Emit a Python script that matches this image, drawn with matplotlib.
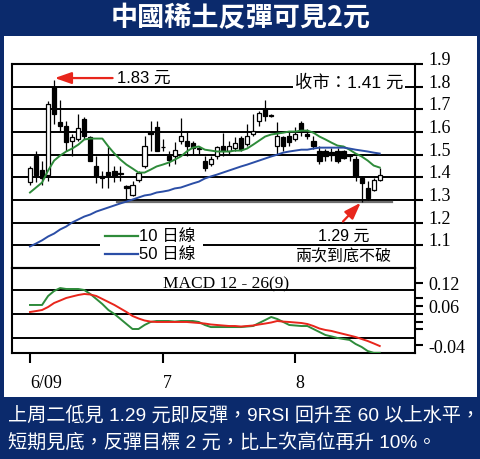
import matplotlib
matplotlib.use("Agg")
import matplotlib.pyplot as plt
import matplotlib.transforms as mtransforms
from matplotlib.patches import Rectangle

W, H, DPI = 481, 460, 100

NAVY = "#0b2a6c"
GREEN = "#2e8b3a"
BLUE = "#2b4ea6"
RED = "#e8261c"
CJK = ["Liberation Sans", "Noto Sans CJK TC"]
SERIF = ["Liberation Serif"]

# Daily candles, June - August 2009
opens = [1.381, 1.492, 1.434, 1.412, 1.800, 1.646, 1.628, 1.562, 1.571, 1.659,
         1.580, 1.452, 1.408, 1.425, 1.430, 1.418, 1.360, 1.320, 1.390, 1.452,
         1.602, 1.624, 1.536, 1.496, 1.492, 1.562, 1.562, 1.553, 1.527, 1.474,
         1.461, 1.492, 1.540, 1.514, 1.531, 1.575, 1.549, 1.593, 1.650, 1.703,
         1.672, 1.540, 1.580, 1.584, 1.571, 1.641, 1.593, 1.562, 1.518, 1.514,
         1.512, 1.518, 1.514, 1.498, 1.483, 1.395, 1.355, 1.342, 1.390]
highs = [1.452, 1.514, 1.470, 1.738, 1.830, 1.743, 1.650, 1.593, 1.681, 1.668,
         1.584, 1.496, 1.430, 1.536, 1.452, 1.452, 1.364, 1.386, 1.430, 1.584,
         1.650, 1.650, 1.571, 1.514, 1.558, 1.663, 1.602, 1.562, 1.540, 1.496,
         1.492, 1.540, 1.597, 1.562, 1.580, 1.584, 1.637, 1.681, 1.694, 1.743,
         1.680, 1.646, 1.584, 1.602, 1.624, 1.650, 1.615, 1.584, 1.540, 1.527,
         1.531, 1.530, 1.520, 1.505, 1.492, 1.404, 1.382, 1.395, 1.443]
lows = [1.364, 1.381, 1.364, 1.386, 1.637, 1.606, 1.518, 1.496, 1.562, 1.571,
        1.470, 1.373, 1.351, 1.351, 1.381, 1.386, 1.298, 1.316, 1.381, 1.439,
        1.514, 1.514, 1.514, 1.452, 1.461, 1.549, 1.496, 1.505, 1.505, 1.430,
        1.452, 1.483, 1.496, 1.505, 1.514, 1.518, 1.540, 1.584, 1.628, 1.650,
        1.668, 1.505, 1.518, 1.540, 1.562, 1.584, 1.571, 1.527, 1.461, 1.474,
        1.470, 1.465, 1.483, 1.470, 1.386, 1.290, 1.298, 1.338, 1.386]
closes = [1.443, 1.412, 1.395, 1.725, 1.681, 1.628, 1.558, 1.580, 1.619, 1.584,
          1.474, 1.408, 1.395, 1.404, 1.408, 1.415, 1.351, 1.364, 1.417, 1.540,
          1.593, 1.518, 1.532, 1.478, 1.522, 1.584, 1.540, 1.531, 1.525, 1.439,
          1.483, 1.536, 1.514, 1.540, 1.553, 1.527, 1.584, 1.606, 1.685, 1.672,
          1.670, 1.584, 1.540, 1.558, 1.593, 1.606, 1.584, 1.540, 1.470, 1.496,
          1.500, 1.470, 1.487, 1.495, 1.408, 1.373, 1.307, 1.390, 1.410]

# 10-day and 50-day moving averages
ma10 = [1.333, 1.355, 1.377, 1.430, 1.474, 1.496, 1.514, 1.527, 1.544, 1.567,
        1.571, 1.571, 1.571, 1.536, 1.505, 1.478, 1.456, 1.439, 1.421, 1.421,
        1.434, 1.448, 1.456, 1.465, 1.478, 1.492, 1.514, 1.531, 1.536, 1.522,
        1.518, 1.514, 1.514, 1.514, 1.518, 1.518, 1.527, 1.544, 1.562, 1.580,
        1.589, 1.593, 1.597, 1.602, 1.602, 1.606, 1.606, 1.597, 1.580, 1.567,
        1.553, 1.540, 1.536, 1.522, 1.505, 1.492, 1.474, 1.452, 1.443]
ma50 = [1.095, 1.108, 1.122, 1.139, 1.152, 1.170, 1.183, 1.201, 1.214, 1.227,
        1.236, 1.249, 1.258, 1.267, 1.276, 1.285, 1.293, 1.302, 1.311, 1.320,
        1.324, 1.333, 1.337, 1.342, 1.351, 1.355, 1.364, 1.373, 1.381, 1.395,
        1.404, 1.412, 1.421, 1.430, 1.439, 1.448, 1.456, 1.465, 1.474, 1.483,
        1.492, 1.500, 1.509, 1.514, 1.518, 1.522, 1.522, 1.527, 1.531, 1.531,
        1.531, 1.531, 1.531, 1.527, 1.522, 1.518, 1.514, 1.509, 1.505]

# MACD 12-26(9): MACD line and signal line
macd = [0.0626, 0.0626, 0.0626, 0.0856, 0.0985, 0.1060, 0.1036, 0.1036, 0.1036, 0.1010,
        0.0908, 0.0780, 0.0650, 0.0497, 0.0395, 0.0267, 0.0138, 0.0010, 0.0010, 0.0113,
        0.0190, 0.0215, 0.0215, 0.0215, 0.0200, 0.0215, 0.0215, 0.0215, 0.0190, 0.0113,
        0.0060, 0.0060, 0.0060, 0.0060, 0.0060, 0.0060, 0.0074, 0.0087, 0.0164, 0.0240,
        0.0318, 0.0267, 0.0190, 0.0113, 0.0100, 0.0087, 0.0087, 0.0010, -0.0067, -0.0144,
        -0.0180, -0.0220, -0.0246, -0.0270, -0.0374, -0.0450, -0.0554, -0.0600, -0.0600]
signal = [0.0446, 0.0470, 0.0497, 0.0574, 0.0677, 0.0740, 0.0805, 0.0844, 0.0882, 0.0908,
          0.0895, 0.0856, 0.0780, 0.0703, 0.0626, 0.0536, 0.0446, 0.0344, 0.0280, 0.0228,
          0.0200, 0.0190, 0.0190, 0.0190, 0.0190, 0.0190, 0.0190, 0.0177, 0.0164, 0.0150,
          0.0126, 0.0113, 0.0100, 0.0087, 0.0087, 0.0074, 0.0087, 0.0100, 0.0126, 0.0150,
          0.0177, 0.0215, 0.0200, 0.0190, 0.0177, 0.0164, 0.0138, 0.0087, 0.0023, -0.0015,
          -0.0040, -0.0080, -0.0118, -0.0156, -0.0195, -0.0246, -0.0297, -0.0360, -0.0426]

month_ticks = [0, 22, 44]
month_labels = ["6/09", "7", "8"]
price_ticks = [1.1, 1.2, 1.3, 1.4, 1.5, 1.6, 1.7, 1.8, 1.9]
price_labels = ["1.1", "1.2", "1.3", "1.4", "1.5", "1.6", "1.7", "1.8", "1.9"]
macd_ticks = [0.12, 0.08, 0.06, 0.04, 0.02, 0.0, -0.04]
macd_labels = ["0.12", "", "0.06", "", "", "", "-0.04"]
macd_grid = [0.101, 0.0395, -0.022]

title = "中國稀土反彈可見2元"
caption = ["上周二低見 1.29 元即反彈，9RSI 回升至 60 以上水平，",
           "短期見底，反彈目標 2 元，比上次高位再升 10%。"]


def fx(px):
    return px / W


def fy(py):
    return 1 - py / H


fig = plt.figure(figsize=(W / DPI, H / DPI), dpi=DPI, facecolor=NAVY)
panel = fig.add_axes([fx(4), fy(398), (477 - 4) / W, (398 - 37) / H], zorder=-5)
panel.set_facecolor("white")
panel.set_xticks([])
panel.set_yticks([])
for s in panel.spines.values():
    s.set_visible(False)

fig.text(0.5, fy(18), title, color="white", fontsize=19.5, fontweight="heavy",
         family=["Noto Sans CJK TC"], ha="center", va="center")
for k, line in enumerate(caption):
    fig.text(fx(8), fy(415 + 27 * k), line, color="white", fontsize=13.8,
             family=CJK, ha="left", va="center")

LEFT, RIGHT, TOP, MID, BOT = 12, 415, 65, 269, 354
ax = fig.add_axes([fx(LEFT), fy(MID), (RIGHT - LEFT) / W, (MID - TOP) / H])
axm = fig.add_axes([fx(LEFT), fy(BOT), (RIGHT - LEFT) / W, (BOT - MID) / H])

XMIN, XMAX = -2.985, 63.85
for a in (ax, axm):
    a.set_xlim(XMIN, XMAX)
    a.set_facecolor("none")
    for s in a.spines.values():
        s.set_linewidth(1.5)
        s.set_color("black")

# ---- price panel ----
ax.set_ylim(1.0, 1.9)
for p in price_ticks[:-1]:
    ax.axhline(p, color="black", lw=1.4, zorder=1)

idx = list(range(len(closes)))
for i in idx:
    o, h, l, c = opens[i], highs[i], lows[i], closes[i]
    ax.vlines(i, l, h, color="black", lw=0.9, zorder=3)
    body = max(abs(c - o), 0.004)
    ax.bar(i, body, bottom=min(o, c), width=0.7,
           color="white" if c >= o else "black", edgecolor="black",
           linewidth=0.9, zorder=4)

ax.plot([14.4, 60.0], [1.292, 1.292], color="#6f6f6f", lw=1.6, zorder=2)
ax.plot(idx, ma10, color=GREEN, lw=1.4, zorder=5)
ax.plot(idx, ma50, color=BLUE, lw=1.4, zorder=5)

ax.set_xticks([])
ax.yaxis.tick_right()
ax.set_yticks(price_ticks)
ax.set_yticklabels(price_labels, family=SERIF, fontsize=13)
ax.tick_params(axis="y", direction="out", length=5.8, width=1.5, pad=4)
up = mtransforms.ScaledTranslation(0, 6.5 / DPI, fig.dpi_scale_trans)
for lbl in ax.get_yticklabels():
    lbl.set_transform(lbl.get_transform() + up)


def axc(px, py):
    return ((px - LEFT) / (RIGHT - LEFT), (MID - py) / (MID - TOP))


# legend block
ax.add_patch(Rectangle(axc(100, 266), 103 / (RIGHT - LEFT), 40 / (MID - TOP),
                       transform=ax.transAxes, facecolor="white",
                       edgecolor="none", zorder=6))
for py, col, txt in ((237, GREEN, "10 日線"), (255, BLUE, "50 日線")):
    x0, y0 = axc(105, py)
    x1, _ = axc(138, py)
    ax.plot([x0, x1], [y0, y0], color=col, lw=1.6, transform=ax.transAxes,
            zorder=7)
    tx, ty = axc(139, py)
    ax.text(tx, ty, txt, transform=ax.transAxes, fontsize=12, family=CJK,
            ha="left", va="center", zorder=7)

# high / low annotations
ax.annotate("", xy=(4.1, 1.838), xytext=(13.7, 1.838),
            arrowprops=dict(arrowstyle="-|>,head_length=1.0,head_width=0.35",
                            color=RED, lw=1.6, shrinkA=0, shrinkB=0), zorder=8)
ax.text(14.4, 1.842, "1.83 元", fontsize=12, family=CJK, ha="left",
        va="center", zorder=8)
ax.annotate("", xy=(54.85, 1.288), xytext=(51.9, 1.205),
            arrowprops=dict(arrowstyle="-|>,head_length=1.0,head_width=0.35",
                            color=RED, lw=1.6, shrinkA=0, shrinkB=0), zorder=8)
ax.text(52.1, 1.144, "1.29 元", fontsize=11.5, family=CJK, ha="center",
        va="center", zorder=8)
ax.text(52.1, 1.051, "兩次到底不破", fontsize=11.5, family=CJK, ha="center",
        va="center", zorder=8)
tx, ty = axc(295, 82)
ax.text(tx, ty, "收市：1.41 元", transform=ax.transAxes, fontsize=12.5,
        family=CJK, ha="left", va="center", zorder=8,
        bbox=dict(facecolor="white", edgecolor="none", pad=1.5))

# ---- MACD panel ----
axm.set_ylim(-0.0605, 0.1574)
for g in macd_grid:
    axm.axhline(g, color="black", lw=1.4, zorder=1)
axm.plot(idx, macd, color=GREEN, lw=1.4, zorder=4)
axm.plot(idx, signal, color=RED, lw=1.4, zorder=4)
axm.text(22.0, 0.118, "MACD 12 - 26(9)", family=SERIF, fontsize=12.5,
         ha="left", va="center", zorder=5)

axm.yaxis.tick_right()
axm.set_yticks(macd_ticks)
axm.set_yticklabels(macd_labels, family=SERIF, fontsize=13)
axm.tick_params(axis="y", direction="out", length=5.8, width=1.5, pad=4)
axm.set_xticks(month_ticks)
axm.set_xticklabels(month_labels, family=SERIF, fontsize=13, ha="left")
axm.tick_params(axis="x", direction="out", length=7.2, width=1.5, pad=8)

fig.savefig("out.png", dpi=DPI, facecolor=NAVY)
